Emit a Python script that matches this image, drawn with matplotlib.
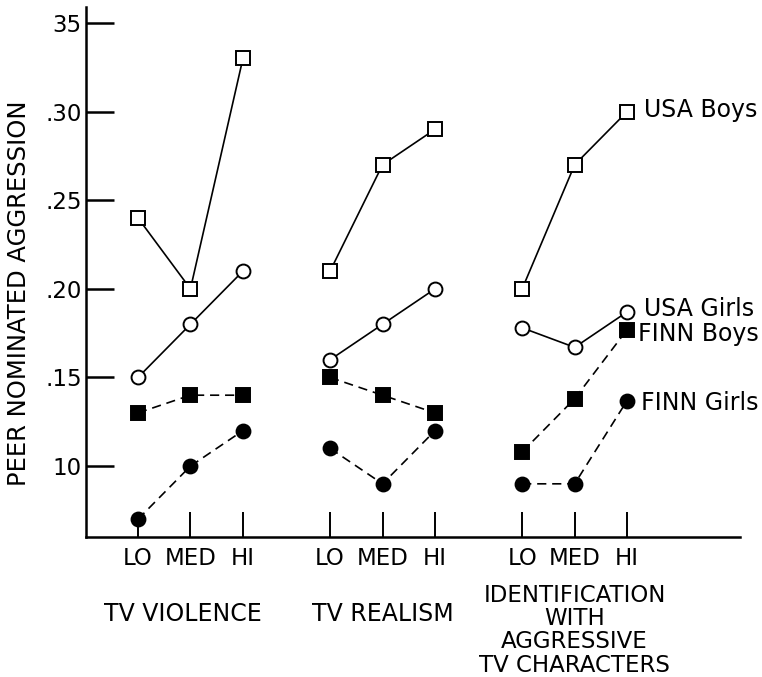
import matplotlib
matplotlib.use("Agg")
import matplotlib.pyplot as plt

plt.rcParams['font.family'] = ['DejaVu Sans']

levels = ["LO", "MED", "HI"]
groups = ["TV VIOLENCE", "TV REALISM", "IDENTIFICATION\nWITH\nAGGRESSIVE\nTV CHARACTERS"]
series_names = ["USA Boys", "USA Girls", "FINN Boys", "FINN Girls"]

usa_boys = [[0.24, 0.20, 0.33], [0.21, 0.27, 0.29], [0.20, 0.27, 0.30]]
usa_girls = [[0.15, 0.18, 0.21], [0.16, 0.18, 0.20], [0.178, 0.167, 0.187]]
finn_boys = [[0.13, 0.14, 0.14], [0.15, 0.14, 0.13], [0.108, 0.138, 0.177]]
finn_girls = [[0.07, 0.10, 0.12], [0.11, 0.09, 0.12], [0.09, 0.09, 0.137]]

yticks = [0.10, 0.15, 0.20, 0.25, 0.30, 0.35]
ytick_labels = ["10", ".15", ".20", ".25", ".30", "35"]

group_gap = 3.66
def xpos(g):
    return [g * group_gap + i for i in range(3)]

fig = plt.figure(figsize=(7.62, 6.77), dpi=100)
ax = fig.add_axes([86 / 762, 1 - 537 / 677, (740 - 86) / 762, (537 - 7) / 677])

styles = [
    dict(data=usa_boys, marker='s', mfc='white', ls='-', ms=9.5),
    dict(data=usa_girls, marker='o', mfc='white', ls='-', ms=10),
    dict(data=finn_boys, marker='s', mfc='black', ls=(0, (5.5, 3.5)), ms=9.5),
    dict(data=finn_girls, marker='o', mfc='black', ls=(0, (5.5, 3.5)), ms=10),
]
for st in styles:
    for g in range(3):
        ax.plot(xpos(g), st['data'][g], color='black', lw=1.2, ls=st['ls'],
                marker=st['marker'], mfc=st['mfc'], mec='black', mew=1.4,
                ms=st['ms'], zorder=3)

ax.set_xlim(-0.99, 11.47)
ax.set_ylim(0.06, 0.359)

for s in ['top', 'right']:
    ax.spines[s].set_visible(False)
for s in ['left', 'bottom']:
    ax.spines[s].set_linewidth(1.8)

ax.set_yticks(yticks)
ax.set_yticklabels(ytick_labels, fontsize=16.5)
xt = xpos(0) + xpos(1) + xpos(2)
ax.set_xticks(xt)
ax.set_xticklabels(levels * 3, fontsize=16.5)
ax.tick_params(axis='y', direction='in', length=20, width=1.8, pad=3)
ax.tick_params(axis='x', direction='in', length=18, width=1.4, pad=7)

ax.set_ylabel("PEER NOMINATED AGGRESSION", fontsize=17.5)
ax.yaxis.set_label_coords(-0.084, 0.46)

# group labels
trans = ax.get_xaxis_transform()
ax.text(xpos(0)[1] - 0.15, -0.145, groups[0], transform=trans, ha='center', va='center', fontsize=17)
ax.text(xpos(1)[1], -0.145, groups[1], transform=trans, ha='center', va='center', fontsize=17)
ax.text(xpos(2)[1], -0.088, groups[2], transform=trans, ha='center', va='top', fontsize=16.5,
        linespacing=1.02)

# series labels
last = [usa_boys[2][2], usa_girls[2][2], finn_boys[2][2], finn_girls[2][2]]
offsets = [(12, 1), (12, 2), (8, -3), (10, -2)]
for name, v, (dx, dy) in zip(series_names, last, offsets):
    ax.annotate(name, xy=(xpos(2)[2], v), xytext=(dx, dy), textcoords='offset points',
                ha='left', va='center', fontsize=17)

fig.savefig("out.png", dpi=100)
